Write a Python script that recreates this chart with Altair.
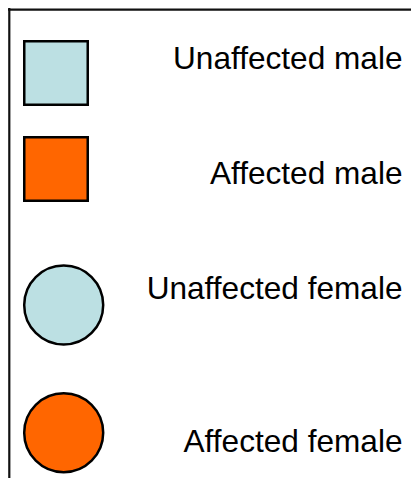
import altair as alt
import pandas as pd

# Legend entries (pedigree key)
labels = ["Unaffected male", "Affected male", "Unaffected female", "Affected female"]
status = ["Unaffected", "Affected", "Unaffected", "Affected"]
sex = ["male", "male", "female", "female"]

df = pd.DataFrame({
    "label": labels,
    "status": status,
    "sex": sex,
    "row": list(range(len(labels))),
})

W, H = 403, 470

color_scale = alt.Scale(domain=["Unaffected", "Affected"], range=["#BCE0E3", "#FF6600"])
row_scale_sym = alt.Scale(domain=[0, 1, 2, 3], range=[65, 161, 297, 424.7])

squares = alt.Chart(df).transform_filter(alt.datum.sex == "male").mark_square(
    opacity=1, stroke="black", strokeWidth=2.5, size=4030
).encode(
    x=alt.value(48),
    y=alt.Y("row:Q", axis=None, scale=row_scale_sym),
    color=alt.Color("status:N", legend=None, scale=color_scale),
)

circles = alt.Chart(df).transform_filter(alt.datum.sex == "female").mark_circle(
    opacity=1, stroke="black", strokeWidth=2.5, size=6240
).encode(
    x=alt.value(55.7),
    y=alt.Y("row:Q", axis=None, scale=row_scale_sym),
    color=alt.Color("status:N", legend=None, scale=color_scale),
)

texts = alt.Chart(df).mark_text(
    align="right", baseline="alphabetic", font="Liberation Sans",
    fontSize=31.6, color="black"
).encode(
    x=alt.value(394.5),
    y=alt.Y("row:Q", axis=None,
            scale=alt.Scale(domain=[0, 1, 2, 3], range=[61, 176, 291, 444])),
    text="label:N",
)

frame_src = alt.Data(values=[{"k": 1}])
top_line = alt.Chart(frame_src).mark_rule(color="#111111", strokeWidth=2.2).encode(
    x=alt.value(0), x2=alt.value(W), y=alt.value(1.6)
)
left_line = alt.Chart(frame_src).mark_rule(color="#111111", strokeWidth=2.2).encode(
    x=alt.value(1.3), y=alt.value(0), y2=alt.value(H)
)

chart = alt.layer(top_line, left_line, squares, circles, texts).resolve_scale(
    y="independent"
).properties(
    width=W, height=H, padding=0,
    autosize=alt.AutoSizeParams(type="none"),
    background="white",
).configure_view(stroke=None)

chart.save("out.html", embed_options={"renderer": "svg", "actions": False})
